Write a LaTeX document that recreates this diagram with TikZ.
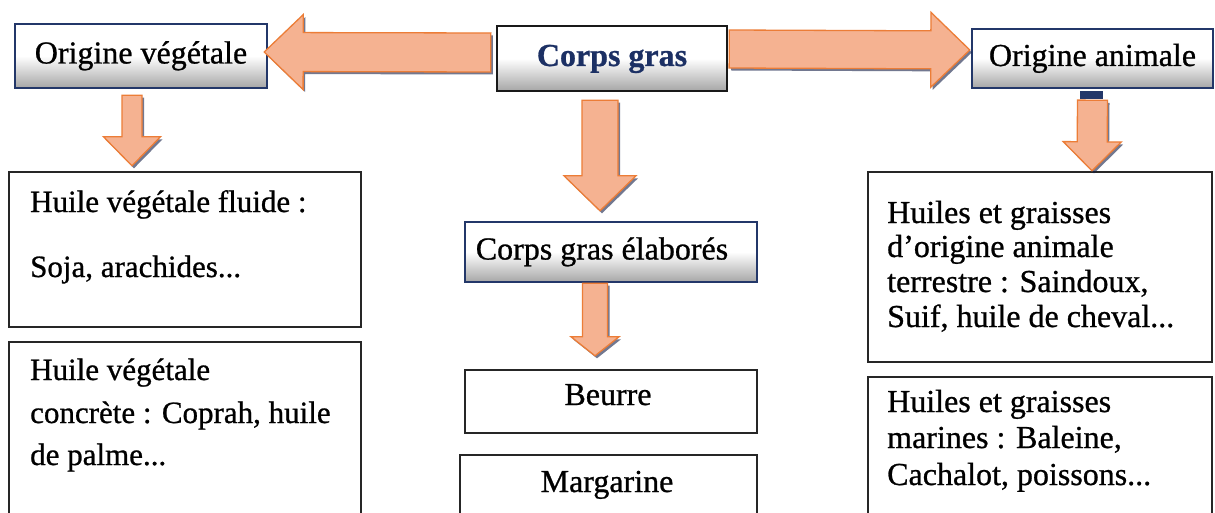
\documentclass[tikz,border=0pt]{standalone}
\usepackage{fontspec}
\setmainfont{Liberation Serif}[FakeBold=1.2]
\usetikzlibrary{calc,shadows}
\definecolor{arrowfill}{RGB}{245,178,145}
\definecolor{arrowdraw}{RGB}{236,125,55}
\definecolor{navytext}{RGB}{28,48,100}
\definecolor{boxblue}{RGB}{35,55,105}
\definecolor{shadowblue}{RGB}{20,30,70}
\newcommand{\bodyfont}{\addfontfeature{FakeBold=0.8}\fontsize{31}{36}\selectfont}
\newcommand{\rightfont}{\addfontfeature{FakeBold=0.8}\fontsize{32}{36}\selectfont}
\newcommand{\topfont}{\addfontfeature{FakeBold=0.8}\fontsize{32}{36}\selectfont}
% tail, tip, shaft half-width, head half-width, head length
\newcommand{\myblockarrow}[5]{%
  \coordinate (ba-a) at #1;
  \coordinate (ba-b) at #2;
  \coordinate (ba-h) at ($(ba-b)!#5!(ba-a)$);
  \draw[barrow] ($(ba-a)!#3!90:(ba-b)$) -- ($(ba-h)!#3!90:(ba-b)$)
    -- ($(ba-h)!#4!90:(ba-b)$) -- (ba-b) -- ($(ba-h)!#4!-90:(ba-b)$)
    -- ($(ba-h)!#3!-90:(ba-b)$) -- ($(ba-a)!#3!-90:(ba-b)$) -- cycle;
}
\begin{document}
\begin{tikzpicture}[x=1pt,y=-1pt,
  topbox/.style={rectangle, inner sep=0pt, line width=2.4pt, draw=boxblue,
    top color=white, bottom color=black!35, middle color=white,
    font=\topfont, text height=22pt, text depth=7pt},
  plainbox/.style={rectangle, inner sep=0pt, line width=2.4pt, draw=black!85, fill=white},
  txt/.style={anchor=base west, inner sep=0pt, font=\bodyfont},
  rtxt/.style={anchor=base west, inner sep=0pt, font=\rightfont},
  ctxt/.style={anchor=base, inner sep=0pt, font=\topfont},
  barrow/.style={fill=arrowfill, draw=arrowdraw, line width=1.3pt, line join=miter,
    drop shadow={shadow xshift=2pt, shadow yshift=-2.5pt, fill=shadowblue, opacity=0.6}}
]
\useasboundingbox (0,0) rectangle (1215,513);
\clip (0,0) rectangle (1215,513);
\fill[white] (0,0) rectangle (1215,513);

% top row
\node[topbox, minimum width=252pt, minimum height=64pt] (ov) at (141,56) {Origine végétale};
\node[topbox, draw=black!90, minimum width=230pt, minimum height=65pt, font=\topfont\bfseries, text=navytext] (cg) at (612,58.5) {Corps gras};
\node[topbox, minimum width=241pt, minimum height=59pt] (oa) at (1092.5,58.5) {Origine animale};
\fill[boxblue] (1080,91) rectangle (1103,99);

% middle column
\node[topbox, minimum width=292pt, minimum height=60pt] (cge) at (611,252) {Corps gras élaborés\hspace*{18pt}};
\node[plainbox, minimum width=292pt, minimum height=63pt] (beurre) at (611,401.5) {};
\node[plainbox, minimum width=297pt, minimum height=90pt] (marg) at (608.5,500) {};
\node[ctxt] (tbeurre) at (608,405) {Beurre};
\node[ctxt] (tmarg) at (607,492) {Margarine};

% left column
\node[plainbox, minimum width=352pt, minimum height=155pt] (l1) at (185,249.5) {};
\node[plainbox, minimum width=352pt, minimum height=200pt] (l2) at (185,442) {};
\node[txt] (l1a) at (30,212) {Huile végétale fluide :};
\node[txt] (l1b) at (30,277) {Soja, arachides...};
\node[txt] (l2a) at (30,380) {Huile végétale};
\node[txt] (l2b) at (30,423) {concrète : Coprah, huile};
\node[txt] (l2c) at (30,465) {de palme...};

% right column
\node[plainbox, minimum width=344pt, minimum height=190pt] (r1) at (1040,267) {};
\node[plainbox, minimum width=344pt, minimum height=170pt] (r2) at (1040,462) {};
\node[rtxt] (r1a) at (887,223) {Huiles et graisses};
\node[rtxt] (r1b) at (887,257) {d’origine animale};
\node[rtxt] (r1c) at (887,292) {terrestre : Saindoux,};
\node[rtxt] (r1d) at (887,327) {Suif, huile de cheval...};
\node[rtxt] (r2a) at (887,412) {Huiles et graisses};
\node[rtxt] (r2b) at (887,448) {marines : Baleine,};
\node[rtxt] (r2c) at (887,485) {Cachalot, poissons...};

% block arrows
\myblockarrow{($(cg.west)+(-5,-6)$)}{($(ov.east)+(-4,-4)$)}{19.5pt}{37.5pt}{39pt}
\myblockarrow{($(cg.east)+(1,-9.5)$)}{($(oa.west)+(-1,-8.5)$)}{19pt}{37.5pt}{39pt}
\myblockarrow{($(ov.south)+(-9,6)$)}{($(l1.north)+(-53,-5)$)}{10pt}{28.5pt}{29pt}
\myblockarrow{($(cg.south)+(-12,8)$)}{($(cge.north)+(-11,-10)$)}{18pt}{36pt}{35pt}
\myblockarrow{($(cge.south)+(-16,0)$)}{($(beurre.north)+(-16,-13)$)}{12.5pt}{24pt}{19pt}
\myblockarrow{($(oa.south)+(0,11)$)}{($(r1.north)+(52,0)$)}{15pt}{29pt}{29pt}
\end{tikzpicture}
\end{document}
